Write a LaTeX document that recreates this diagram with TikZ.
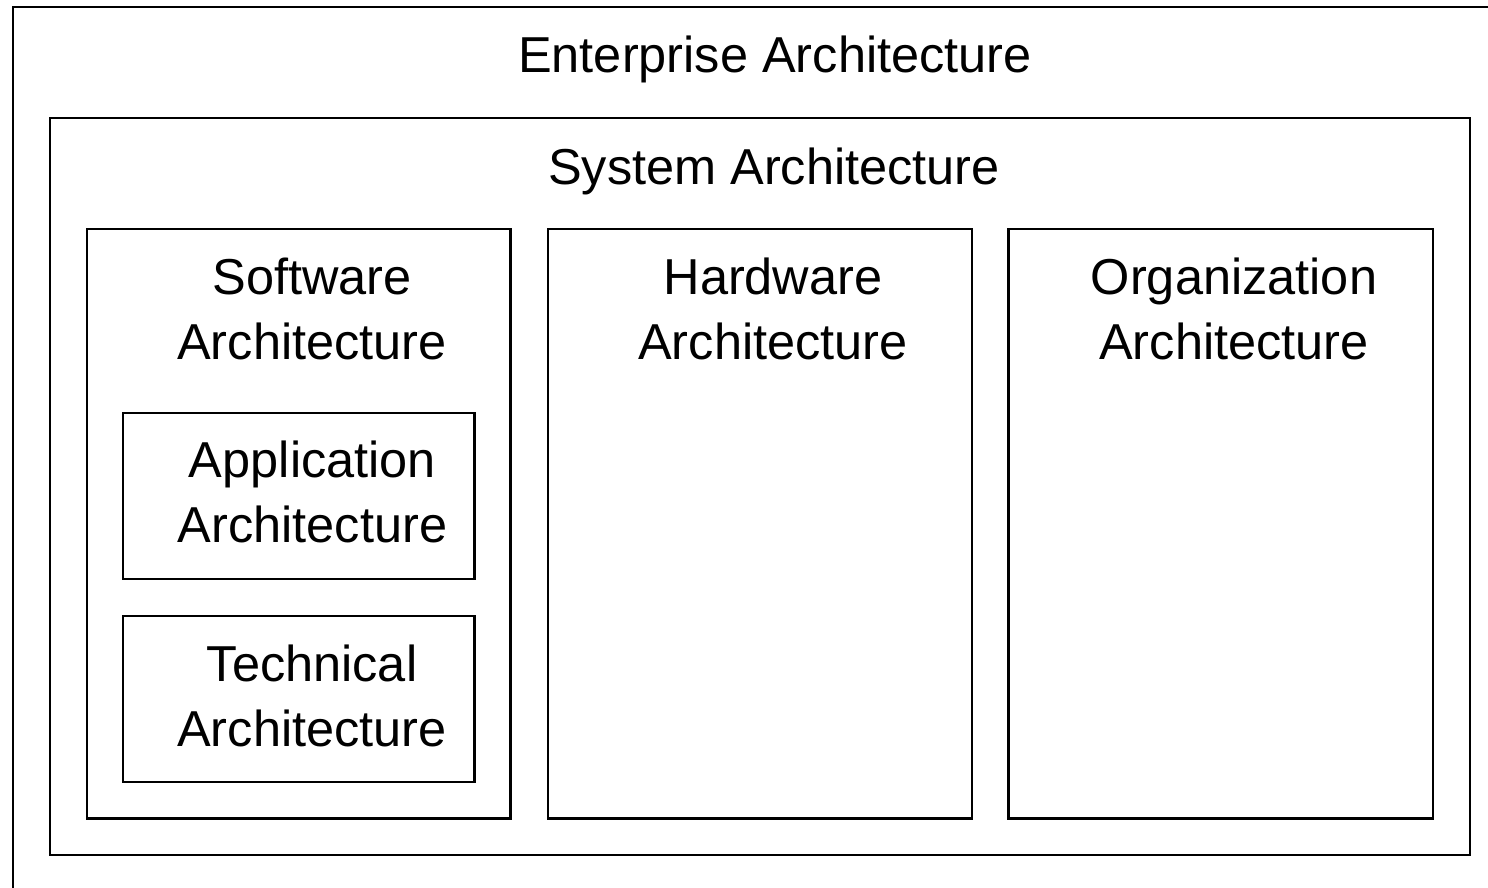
\documentclass[tikz,border=0pt]{standalone}
\usepackage{fontspec}
\setmainfont{Liberation Sans}
\begin{document}
\begin{tikzpicture}[x=1pt,y=-1pt,
  frame/.style={draw=black, rectangle, line width=2.2pt, inner sep=0pt, outer sep=0pt},
  lbl/.style={font=\fontsize{50.5}{65}\selectfont, align=center, anchor=base, inner sep=0pt}]
\useasboundingbox (0,0) rectangle (1488,887);
\clip (0,0) rectangle (1488,887);
% nested frames
\node[frame, minimum width=1487.3pt, minimum height=892.7pt] (ent) at (756.35,453.65) {};
\node[frame, minimum width=1420pt, minimum height=737.3pt] (sys) at (760,486.35) {};
\node[frame, minimum width=423.2pt, minimum height=589.2pt] (sw) at (298.9,523.9) {};
\node[frame, minimum width=424pt, minimum height=589.2pt] (hw) at (760,523.9) {};
\node[frame, minimum width=424.5pt, minimum height=589.2pt] (org) at (1220.75,523.9) {};
\node[frame, minimum width=351.2pt, minimum height=166.3pt] (app) at (298.9,495.85) {};
\node[frame, minimum width=351.2pt, minimum height=166pt] (tech) at (298.9,698.7) {};
% labels (base anchor of a two-line label sits on its last line)
\node[lbl] (entl) at (775,72) {Enterprise Architecture};
\node[lbl] (sysl) at (774,184) {System Architecture};
\node[lbl] (swl) at (312,359.5) {Software\\Architecture};
\node[lbl] (hwl) at (773,359.5) {Hardware\\Architecture};
\node[lbl] (orgl) at (1234,359.5) {Organization\\Architecture};
\node[lbl] (appl) at (312.5,542) {Application\\Architecture};
\node[lbl] (techl) at (312,746.7) {Technical\\Architecture};
\end{tikzpicture}
\end{document}
